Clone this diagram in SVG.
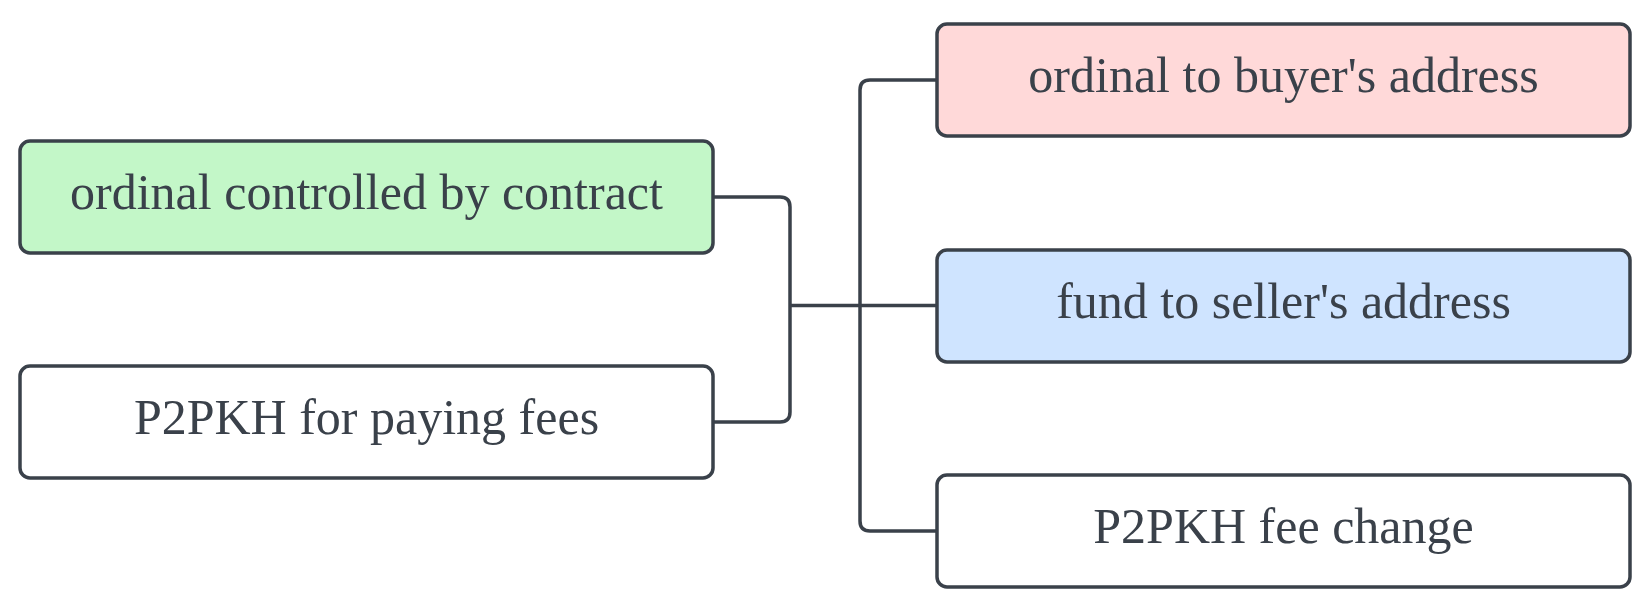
<svg xmlns="http://www.w3.org/2000/svg" width="1644" height="594" viewBox="0 0 1644 594">
<style>
.box{stroke:#3a414a;stroke-width:3.5}
.lbl{font-family:"Liberation Serif","Times New Roman",serif;font-size:50px;fill:#3a414a;text-anchor:middle}
.conn{fill:none;stroke:#3a414a;stroke-width:3.5}
</style>
<rect width="1644" height="594" fill="#ffffff"/>
<g id="connectors">
<path class="conn" d="M713 197 H780 Q790 197 790 207 V412 Q790 422 780 422 H713"/>
<path class="conn" d="M790 305.5 H937"/>
<path class="conn" d="M937 80 H870 Q860 80 860 90 V521 Q860 531 870 531 H937"/>
</g>
<g id="n-ordinal-contract">
<rect class="box" x="20" y="141" width="693" height="112" rx="10" fill="#c3f7c8"/>
<text class="lbl" x="366.5" y="209">ordinal controlled by contract</text>
</g>
<g id="n-p2pkh-fees">
<rect class="box" x="20" y="366" width="693" height="112" rx="10" fill="#ffffff"/>
<text class="lbl" x="366.5" y="434">P2PKH for paying fees</text>
</g>
<g id="n-ordinal-buyer">
<rect class="box" x="937" y="24" width="693" height="112" rx="10" fill="#ffd9d9"/>
<text class="lbl" x="1283.5" y="92">ordinal to buyer's address</text>
</g>
<g id="n-fund-seller">
<rect class="box" x="937" y="250" width="693" height="112" rx="10" fill="#cfe4ff"/>
<text class="lbl" x="1283.5" y="318">fund to seller's address</text>
</g>
<g id="n-fee-change">
<rect class="box" x="937" y="475" width="693" height="112" rx="10" fill="#ffffff"/>
<text class="lbl" x="1283.5" y="543">P2PKH fee change</text>
</g>
</svg>
